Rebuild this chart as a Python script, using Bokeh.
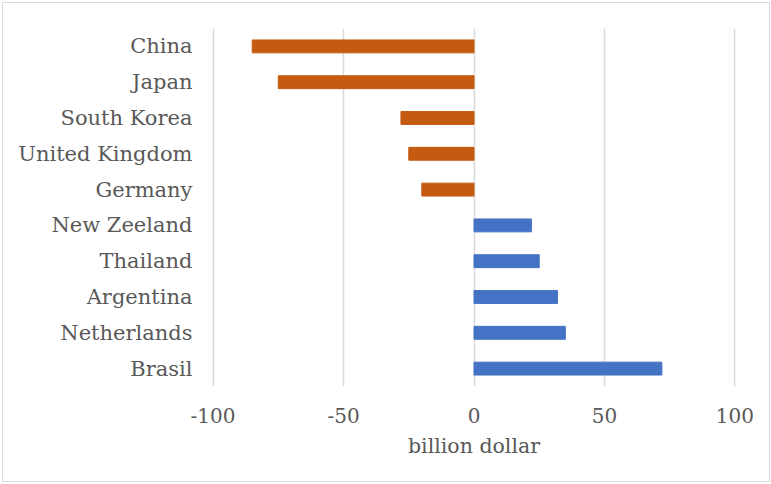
from bokeh.plotting import figure
from bokeh.models import Range1d, FactorRange, FixedTicker, ColumnDataSource
from bokeh.embed import file_html
from bokeh.resources import INLINE

countries = ["China", "Japan", "South Korea", "United Kingdom", "Germany",
             "New Zeeland", "Thailand", "Argentina", "Netherlands", "Brasil"]
values = [-85, -75, -28, -25, -20, 22, 25, 32, 35, 72]
x_ticks = [-100, -50, 0, 50, 100]
x_tick_labels = ["-100", "-50", "0", "50", "100"]
x_label = "billion dollar"

NEG = "#C55A11"
POS = "#4472C4"
colors = [NEG if v < 0 else POS for v in values]

src = ColumnDataSource(dict(country=countries, value=values, color=colors))

FONT = "DejaVu Serif"
TXT = "#595959"

p = figure(width=768, height=480, output_backend="svg", toolbar_location=None,
           x_range=Range1d(-100.6, 100.6),
           y_range=FactorRange(factors=list(reversed(countries)), range_padding=0),
           min_border_left=208, min_border_right=35, min_border_top=25,
           min_border_bottom=97)
p.styles = {"border": "1px solid #d9d9d9", "margin": "2px 0 0 2px"}

p.hbar(y="country", left=0, right="value", height=0.36, color="color",
       line_color="color", source=src)

p.outline_line_color = None
p.ygrid.grid_line_color = None
p.xgrid.grid_line_color = "#d9d9d9"
p.xgrid.grid_line_width = 1.5

p.xaxis.ticker = FixedTicker(ticks=x_ticks)
p.xaxis.major_label_overrides = {t: s for t, s in zip(x_ticks, x_tick_labels)}
p.xaxis.axis_line_color = None
p.xaxis.major_tick_line_color = None
p.xaxis.minor_tick_line_color = None
p.xaxis.major_label_text_font = FONT
p.xaxis.major_label_text_font_size = "20px"
p.xaxis.major_label_text_color = TXT
p.xaxis.major_label_standoff = 15
p.xaxis.axis_label = x_label
p.xaxis.axis_label_text_font = FONT
p.xaxis.axis_label_text_font_size = "20.5px"
p.xaxis.axis_label_text_font_style = "normal"
p.xaxis.axis_label_text_color = TXT
p.xaxis.axis_label_standoff = 8

p.yaxis.axis_line_color = None
p.yaxis.major_tick_line_color = None
p.yaxis.minor_tick_line_color = None
p.yaxis.major_label_text_font = FONT
p.yaxis.major_label_text_font_size = "21px"
p.yaxis.major_label_text_color = TXT
p.yaxis.major_label_standoff = 13

open("out.html", "w").write(file_html(p, INLINE))
